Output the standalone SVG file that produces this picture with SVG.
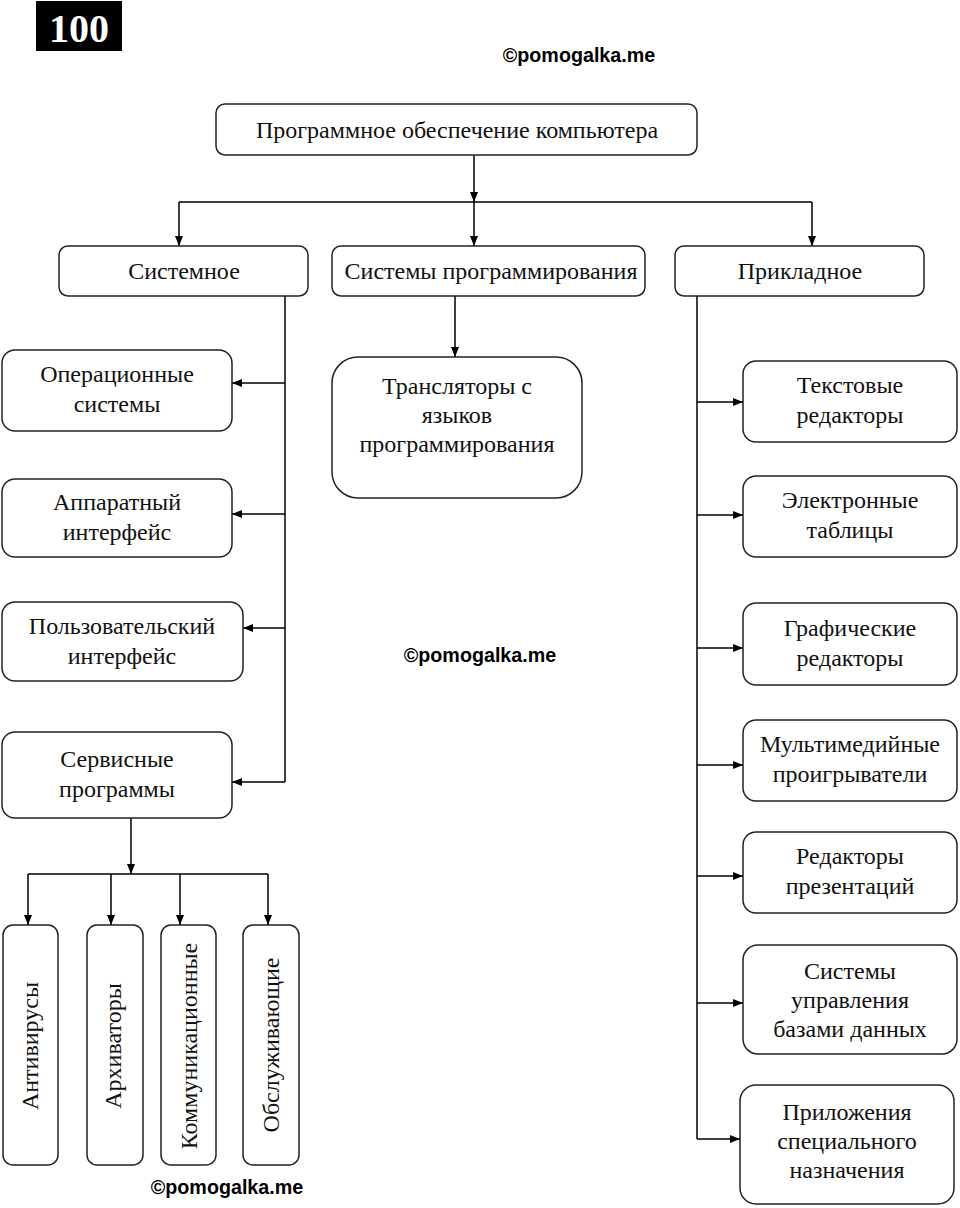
<svg xmlns="http://www.w3.org/2000/svg" width="960" height="1208" viewBox="0 0 960 1208">
<defs>
<marker id="ah" markerUnits="userSpaceOnUse" markerWidth="10" markerHeight="8" refX="10" refY="4" orient="auto">
<path d="M0,0 L10,4 L0,8 z" fill="#000"/>
</marker>
<style>
.box{fill:#fff;stroke:#222;stroke-width:1.5}
.t{font-family:"Liberation Serif","Times New Roman",serif;font-size:24px;fill:#111;text-anchor:middle}
.wm{font-family:"Liberation Sans",Arial,sans-serif;font-weight:bold;font-size:19.7px;fill:#000;text-anchor:middle}
.ln{fill:none;stroke:#000;stroke-width:1.5}
.ar{fill:none;stroke:#000;stroke-width:1.5;marker-end:url(#ah)}
</style>
</defs>
<rect width="960" height="1208" fill="#fff"/>
<g id="badge">
<rect x="36" y="1" width="86" height="50" fill="#000"/>
<text x="79" y="42" font-family="Liberation Serif, serif" font-weight="bold" font-size="40" fill="#fff" text-anchor="middle">100</text>
</g>
<g id="watermarks">
<text class="wm" x="579" y="62">©pomogalka.me</text>
<text class="wm" x="480" y="662">©pomogalka.me</text>
<text class="wm" x="227" y="1194">©pomogalka.me</text>
</g>
<g id="connectors">
<path class="ar" d="M474,155 V202"/>
<path class="ln" d="M179,202 H812"/>
<path class="ar" d="M179,202 V246"/>
<path class="ar" d="M474,202 V246"/>
<path class="ar" d="M812,202 V246"/>
<path class="ln" d="M285,296 V782"/>
<path class="ar" d="M285,383 H232"/>
<path class="ar" d="M285,514 H232"/>
<path class="ar" d="M285,628 H243"/>
<path class="ar" d="M285,782 H232"/>
<path class="ar" d="M455,296 V357"/>
<path class="ar" d="M131,818 V874"/>
<path class="ln" d="M28,874 H268"/>
<path class="ar" d="M28,874 V925"/>
<path class="ar" d="M111,874 V925"/>
<path class="ar" d="M180,874 V925"/>
<path class="ar" d="M268,874 V925"/>
<path class="ln" d="M697,296 V1139"/>
<path class="ar" d="M697,402 H743"/>
<path class="ar" d="M697,515 H743"/>
<path class="ar" d="M697,648 H743"/>
<path class="ar" d="M697,765 H743"/>
<path class="ar" d="M697,876 H743"/>
<path class="ar" d="M697,1003 H743"/>
<path class="ar" d="M697,1139 H740"/>
</g>
<g id="n-root"><rect class="box" x="216" y="104" width="481" height="51" rx="9"/><text class="t" x="457" y="138">Программное обеспечение компьютера</text></g>
<g id="n-sys"><rect class="box" x="59" y="246" width="249" height="50" rx="9"/><text class="t" x="184" y="279">Системное</text></g>
<g id="n-prog"><rect class="box" x="332" y="246" width="313" height="50" rx="9"/><text class="t" x="491" y="279">Системы программирования</text></g>
<g id="n-app"><rect class="box" x="675" y="246" width="249" height="50" rx="9"/><text class="t" x="800" y="279">Прикладное</text></g>
<g id="n-os"><rect class="box" x="2" y="350" width="230" height="81" rx="13"/><text class="t" x="117" y="382">Операционные</text><text class="t" x="117" y="412">системы</text></g>
<g id="n-hw"><rect class="box" x="2" y="479" width="230" height="78" rx="13"/><text class="t" x="117" y="510">Аппаратный</text><text class="t" x="117" y="540">интерфейс</text></g>
<g id="n-ui"><rect class="box" x="2" y="602" width="241" height="79" rx="13"/><text class="t" x="122" y="634">Пользовательский</text><text class="t" x="122" y="664">интерфейс</text></g>
<g id="n-svc"><rect class="box" x="2" y="732" width="230" height="86" rx="13"/><text class="t" x="117" y="767">Сервисные</text><text class="t" x="117" y="797">программы</text></g>
<g id="n-av"><rect class="box" x="3" y="925" width="55" height="240" rx="10"/><text class="t" transform="translate(38,1046) rotate(-90)">Антивирусы</text></g>
<g id="n-arc"><rect class="box" x="87" y="925" width="56" height="240" rx="10"/><text class="t" transform="translate(121,1046) rotate(-90)">Архиваторы</text></g>
<g id="n-com"><rect class="box" x="161" y="925" width="55" height="240" rx="10"/><text class="t" transform="translate(197,1046) rotate(-90)">Коммуникационные</text></g>
<g id="n-srv"><rect class="box" x="243" y="925" width="56" height="240" rx="10"/><text class="t" transform="translate(279,1045) rotate(-90)">Обслуживающие</text></g>
<g id="n-tr"><rect class="box" x="332" y="357" width="250" height="141" rx="26"/><text class="t" x="457" y="394">Трансляторы с</text><text class="t" x="457" y="423">языков</text><text class="t" x="457" y="452">программирования</text></g>
<g id="n-txt"><rect class="box" x="743" y="361" width="214" height="81" rx="13"/><text class="t" x="850" y="393">Текстовые</text><text class="t" x="850" y="423">редакторы</text></g>
<g id="n-tbl"><rect class="box" x="743" y="476" width="214" height="81" rx="13"/><text class="t" x="850" y="508">Электронные</text><text class="t" x="850" y="538">таблицы</text></g>
<g id="n-gr"><rect class="box" x="743" y="603" width="214" height="82" rx="13"/><text class="t" x="850" y="636">Графические</text><text class="t" x="850" y="666">редакторы</text></g>
<g id="n-mm"><rect class="box" x="743" y="720" width="214" height="81" rx="13"/><text class="t" x="850" y="752">Мультимедийные</text><text class="t" x="850" y="782">проигрыватели</text></g>
<g id="n-pr"><rect class="box" x="743" y="832" width="214" height="81" rx="13"/><text class="t" x="850" y="864">Редакторы</text><text class="t" x="850" y="894">презентаций</text></g>
<g id="n-db"><rect class="box" x="743" y="945" width="214" height="109" rx="15"/><text class="t" x="850" y="979">Системы</text><text class="t" x="850" y="1008">управления</text><text class="t" x="850" y="1037">базами данных</text></g>
<g id="n-sp"><rect class="box" x="740" y="1085" width="214" height="119" rx="16"/><text class="t" x="847" y="1120">Приложения</text><text class="t" x="847" y="1149">специального</text><text class="t" x="847" y="1178">назначения</text></g>
</svg>
